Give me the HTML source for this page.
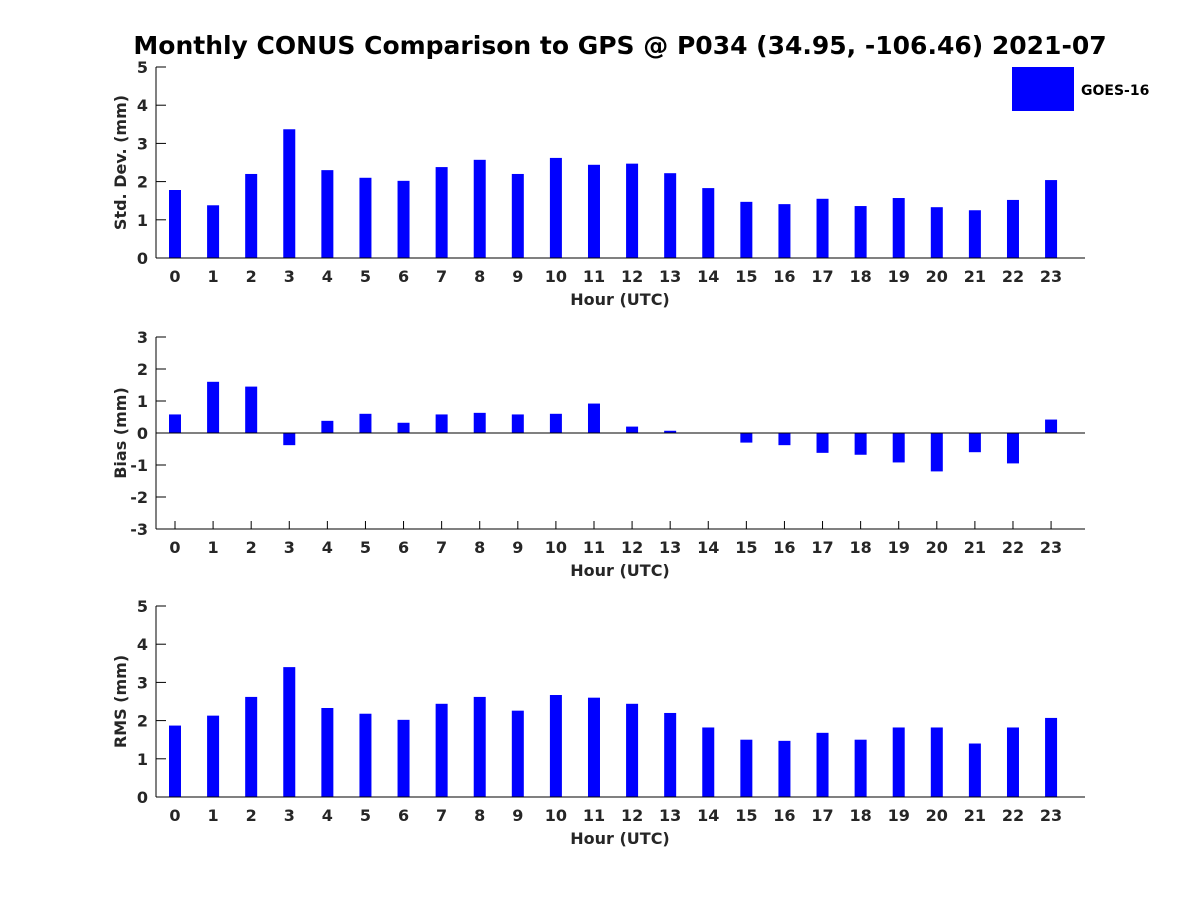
<!DOCTYPE html>
<html><head><meta charset="utf-8"><style>
body{margin:0;background:#fff;}
svg{display:block;font-family:"DejaVu Sans","Liberation Sans",sans-serif;font-weight:bold;}
</style></head><body>
<svg id="chart" width="1200" height="900">
<text x="620" y="54" text-anchor="middle" font-size="25" fill="#000">Monthly CONUS Comparison to GPS @ P034 (34.95, -106.46) 2021-07</text>
<g>
<rect x="1012" y="67" width="62" height="44" fill="#0000ff"/>
<text x="1081" y="95" font-size="14" fill="#000">GOES-16</text>
</g>
</svg>
<script>
const hours=[0,1,2,3,4,5,6,7,8,9,10,11,12,13,14,15,16,17,18,19,20,21,22,23];
const stdDev=[1.78,1.38,2.2,3.37,2.3,2.1,2.02,2.38,2.57,2.2,2.62,2.44,2.47,2.22,1.83,1.47,1.41,1.55,1.36,1.57,1.33,1.25,1.52,2.04];
const bias=[0.58,1.6,1.45,-0.38,0.38,0.6,0.32,0.58,0.63,0.58,0.6,0.92,0.2,0.07,0,-0.3,-0.38,-0.62,-0.68,-0.92,-1.2,-0.6,-0.95,0.42];
const rms=[1.87,2.13,2.62,3.4,2.33,2.18,2.02,2.44,2.62,2.26,2.67,2.6,2.44,2.2,1.82,1.5,1.47,1.68,1.5,1.82,1.82,1.4,1.82,2.07];
const stdTicks=[0,1,2,3,4,5];
const biasTicks=[-3,-2,-1,0,1,2,3];
const rmsTicks=[0,1,2,3,4,5];
const svg=document.getElementById('chart');
const NS='http://www.w3.org/2000/svg';
function mk(tag,attrs,parent){const e=document.createElementNS(NS,tag);for(const k in attrs)e.setAttribute(k,attrs[k]);(parent||svg).appendChild(e);return e;}
function xScale(h){return 175+h*38.09;}
function panel(id,vals,ticks,ymin,ymax,top,bottom,ylabel,xticks){
  const g=mk('g',{});
  
  
  const y=v=>bottom-(v-ymin)/(ymax-ymin)*(bottom-top);
  vals.forEach((v,i)=>{
    const y0=y(0),y1=y(v);
    const r=mk('rect',{x:xScale(hours[i])-6,y:Math.min(y0,y1),width:12,height:Math.abs(y1-y0),fill:'#0000ff'},g);
    
    
  });
  mk('line',{x1:156,y1:top,x2:156,y2:bottom,stroke:'#000','stroke-width':1},g);
  mk('line',{x1:156,y1:bottom,x2:1085,y2:bottom,stroke:'#000','stroke-width':1},g);
  if(ymin<0) mk('line',{x1:156,y1:y(0),x2:1085,y2:y(0),stroke:'#000','stroke-width':1},g);
  ticks.forEach(t=>{
    mk('line',{x1:156,y1:y(t),x2:166,y2:y(t),stroke:'#000'},g);
    const tx=mk('text',{x:148,y:y(t)+6,'text-anchor':'end','font-size':16,fill:'#262626'},g);
    tx.textContent=t;
    
    
  });
  hours.forEach(h=>{
    if(xticks) mk('line',{x1:xScale(h),y1:bottom,x2:xScale(h),y2:bottom-8,stroke:'#000'},g);
    const tx=mk('text',{x:xScale(h),y:bottom+24,'text-anchor':'middle','font-size':16,fill:'#262626'},g);
    tx.textContent=h;
    
    
  });
  const xl=mk('text',{x:620,y:bottom+47,'text-anchor':'middle','font-size':16,fill:'#262626'},g);
  xl.textContent='Hour (UTC)';
  
  
  const cy=(top+bottom)/2;
  const yl=mk('text',{x:126,y:cy,'text-anchor':'middle','font-size':16,fill:'#262626',transform:'rotate(-90 126 '+cy+')'},g);
  yl.textContent=ylabel;
  
  
}
panel('std-dev',stdDev,stdTicks,0,5,67,258,'Std. Dev. (mm)',false);
panel('bias',bias,biasTicks,-3,3,337,529,'Bias (mm)',true);
panel('rms',rms,rmsTicks,0,5,606,797,'RMS (mm)',false);
</script>
</body></html>
